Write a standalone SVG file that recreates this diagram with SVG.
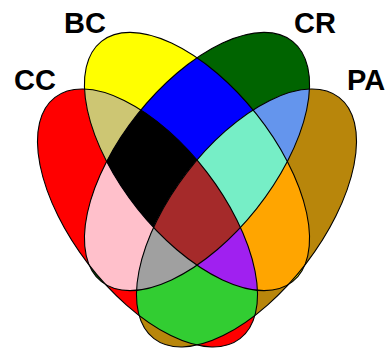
<svg xmlns="http://www.w3.org/2000/svg" xmlns:xlink="http://www.w3.org/1999/xlink" width="386" height="348" viewBox="0 0 386 348">
<style>
.lbl{font-family:"Liberation Sans",Arial,sans-serif;font-weight:bold;font-size:29px;fill:#000}
.ol{fill:none;stroke:#000;stroke-width:1.1}
</style>
<defs>
<ellipse id="eCC" cx="147.5" cy="218" rx="152" ry="75" transform="rotate(52.5 147.5 218)"/>
<ellipse id="eBC" cx="197" cy="161.5" rx="153.5" ry="76" transform="rotate(51.5 197 161.5)"/>
<ellipse id="eCR" cx="197" cy="161.5" rx="153.5" ry="76" transform="rotate(-51.5 197 161.5)"/>
<ellipse id="ePA" cx="246.5" cy="218" rx="152" ry="75" transform="rotate(-52.5 246.5 218)"/>
<clipPath id="cCC"><use xlink:href="#eCC"/></clipPath>
<clipPath id="cBC"><use xlink:href="#eBC"/></clipPath>
<clipPath id="cCR"><use xlink:href="#eCR"/></clipPath>
<clipPath id="cPA"><use xlink:href="#ePA"/></clipPath>
</defs>
<g id="regions">
<use xlink:href="#eCC" fill="#FF0000"/>
<use xlink:href="#eBC" fill="#FFFF00"/>
<use xlink:href="#eCR" fill="#006400"/>
<use xlink:href="#ePA" fill="#B8860B"/>
<g clip-path="url(#cCC)"><use xlink:href="#eBC" fill="#CDC673"/></g>
<g clip-path="url(#cCC)"><use xlink:href="#eCR" fill="#FFC0CB"/></g>
<g clip-path="url(#cCC)"><use xlink:href="#ePA" fill="#32CD32"/></g>
<g clip-path="url(#cBC)"><use xlink:href="#eCR" fill="#0000FF"/></g>
<g clip-path="url(#cBC)"><use xlink:href="#ePA" fill="#FFA500"/></g>
<g clip-path="url(#cCR)"><use xlink:href="#ePA" fill="#6495ED"/></g>
<g clip-path="url(#cCC)"><g clip-path="url(#cBC)"><use xlink:href="#eCR" fill="#000000"/></g></g>
<g clip-path="url(#cCC)"><g clip-path="url(#cBC)"><use xlink:href="#ePA" fill="#A020F0"/></g></g>
<g clip-path="url(#cCC)"><g clip-path="url(#cCR)"><use xlink:href="#ePA" fill="#A0A0A0"/></g></g>
<g clip-path="url(#cBC)"><g clip-path="url(#cCR)"><use xlink:href="#ePA" fill="#76EEC6"/></g></g>
<g clip-path="url(#cCC)"><g clip-path="url(#cBC)"><g clip-path="url(#cCR)"><use xlink:href="#ePA" fill="#A52A2A"/></g></g></g>
</g>
<g id="outlines">
<use id="CC" xlink:href="#eCC" class="ol"/>
<use id="BC" xlink:href="#eBC" class="ol"/>
<use id="CR" xlink:href="#eCR" class="ol"/>
<use id="PA" xlink:href="#ePA" class="ol"/>
</g>
<g id="labels">
<text class="lbl" x="14" y="90">CC</text>
<text class="lbl" x="64" y="33">BC</text>
<text class="lbl" x="294" y="33">CR</text>
<text class="lbl" x="347" y="90">PA</text>
</g>
</svg>
